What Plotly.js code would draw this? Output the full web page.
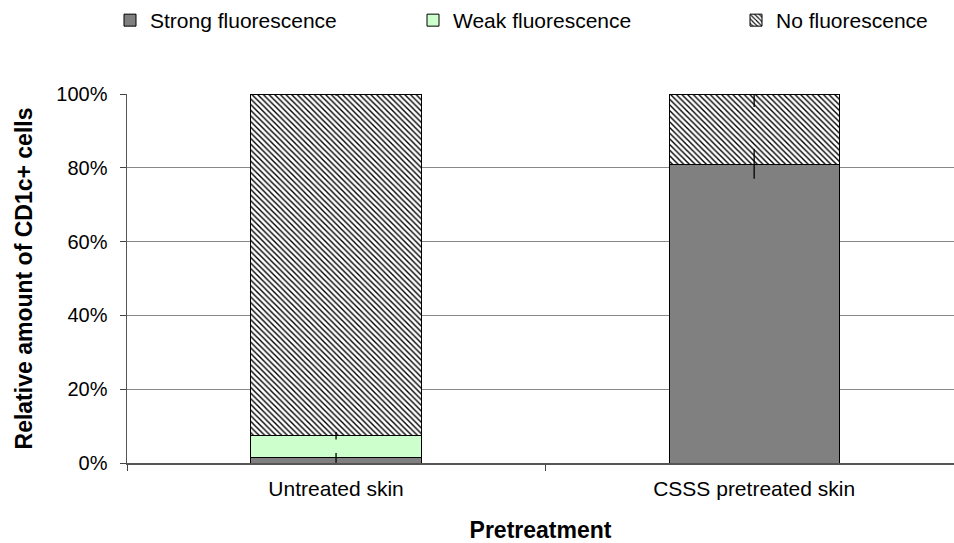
<!DOCTYPE html>
<html>
<head>
<meta charset="utf-8">
<script src="https://cdn.plot.ly/plotly-3.0.1.min.js"></script>
<style>html,body{margin:0;padding:0;background:#fff;}#chart{width:954px;height:543px;}</style>
</head>
<body>
<div id="chart"></div>
<script>
const categories = ['Untreated skin', 'CSSS pretreated skin'];
const strongVals = [1.4, 81];
const weakVals = [6.0, 0];
const noneVals = [92.6, 19];
const strongErr = [1.3, 4];
const weakErr = [1.0, 0];
const noneErrMinus = [0.5, 3.5];
const yTicks = [0, 20, 40, 60, 80, 100];

const FONT = 'Liberation Sans, Arial, sans-serif';
const barW = 0.407;
const line = {color: '#000', width: 1};
const errStyle = {color: '#000', thickness: 1.3, width: 0};

// cumulative tops (stacking) computed from the series arrays, for error-bar overlay
const cumStrong = strongVals.slice();
const cumWeak = strongVals.map((v, i) => v + weakVals[i]);
const cumNone = cumWeak.map((v, i) => v + noneVals[i]);

const traces = [
  {type: 'bar', name: 'Strong fluorescence', x: categories, y: strongVals, width: barW,
   marker: {color: '#808080', line: line}, legend: 'legend'},
  {type: 'bar', name: 'Weak fluorescence', x: categories, y: weakVals, width: barW,
   marker: {color: '#ccffcc', line: line}, legend: 'legend2'},
  {type: 'bar', name: 'No fluorescence', x: categories, y: noneVals, width: barW,
   marker: {color: '#ffffff', line: line,
            pattern: {shape: '\\', fgcolor: '#000', bgcolor: '#fff', size: 4, solidity: 0.35}},
   legend: 'legend3'},
  {type: 'scatter', mode: 'markers', x: categories, y: cumStrong, showlegend: false, hoverinfo: 'skip',
   marker: {size: 1, opacity: 0},
   error_y: Object.assign({type: 'data', array: strongErr, visible: true}, errStyle)},
  {type: 'scatter', mode: 'markers', x: categories, y: cumWeak, showlegend: false, hoverinfo: 'skip',
   marker: {size: 1, opacity: 0},
   error_y: Object.assign({type: 'data', array: weakErr, visible: true}, errStyle)},
  {type: 'scatter', mode: 'markers', x: categories, y: cumNone, showlegend: false, hoverinfo: 'skip',
   marker: {size: 1, opacity: 0},
   error_y: Object.assign({type: 'data', symmetric: false, array: [0, 0], arrayminus: noneErrMinus, visible: true}, errStyle)}
];

const W = 827;
function lx(px){ return (px - 127) / W; }
const legBase = {orientation: 'h', xanchor: 'left', yanchor: 'middle', y: 1.2,
  font: {family: FONT, size: 21, color: '#000'}, bgcolor: 'rgba(0,0,0,0)', itemwidth: 30};

const layout = {
  width: 954, height: 543,
  margin: {l: 127, r: 0, t: 93, b: 80},
  paper_bgcolor: '#fff', plot_bgcolor: '#fff',
  barmode: 'stack',
  font: {family: FONT, size: 20, color: '#000'},
  showlegend: true,
  legend: Object.assign({}, legBase, {x: lx(110)}),
  legend2: Object.assign({}, legBase, {x: lx(413)}),
  legend3: Object.assign({}, legBase, {x: lx(736)}),
  xaxis: {
    type: 'category', range: [-0.5, 1.478],
    tickson: 'boundaries', ticks: 'outside', ticklen: 6, tickcolor: '#444', tickwidth: 1,
    showline: true, linecolor: '#555', linewidth: 1.5,
    showgrid: false, zeroline: false,
    tickfont: {family: FONT, size: 21, color: '#000'}, ticklabelstandoff: 6,
    title: {text: '<b>Pretreatment</b>', font: {family: FONT, size: 23, color: '#000'}, standoff: 25}
  },
  yaxis: {
    range: [0, 100], tickvals: yTicks, ticktext: yTicks.map(v => v + '%'),
    ticks: 'outside', ticklen: 6, tickcolor: '#444', tickwidth: 1,
    showline: true, linecolor: '#555', linewidth: 1.5,
    showgrid: true, gridcolor: '#888', gridwidth: 1, zeroline: false,
    tickfont: {family: FONT, size: 20, color: '#000'}, ticklabelstandoff: 8,
    title: {text: '<b>Relative amount of CD1c+ cells</b>', font: {family: FONT, size: 23, color: '#000'}, standoff: 17}
  }
};

Plotly.newPlot('chart', traces, layout, {displayModeBar: false, staticPlot: true});
</script>
</body>
</html>
